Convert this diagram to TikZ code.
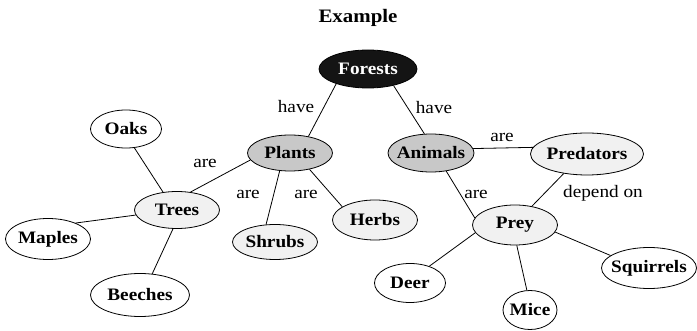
\documentclass[tikz,border=0pt]{standalone}
\usepackage{fontspec}
\setmainfont{Liberation Serif}[FakeStretch=1.1]
\usetikzlibrary{shapes.geometric}
\definecolor{darkfill}{HTML}{141414}
\definecolor{midfill}{HTML}{C8C8C8}
\definecolor{lightfill}{HTML}{F1F1F1}
\tikzset{
  ell/.style={ellipse, draw=black, line width=0.8pt, inner sep=0pt, fill=white,
    font=\rmfamily\fontsize{17.5}{19}\selectfont\bfseries},
  lbl/.style={font=\rmfamily\fontsize{17.5}{19}\selectfont, inner sep=0pt},
  conn/.style={draw=black, line width=0.8pt},
}
\newcommand{\nt}[1]{\makebox[0pt]{#1}}
\begin{document}
\begin{tikzpicture}[x=1pt,y=-1pt]
\useasboundingbox (0,0) rectangle (697,331);
\node[font=\rmfamily\fontsize{19}{21}\selectfont\bfseries] (title) at (358,18) {Example};

\node[ell, fill=darkfill, text=white, minimum width=98, minimum height=38] (forests) at (368,69) {\nt{Forests}};
\node[ell, fill=midfill, minimum width=85, minimum height=36] (plants) at (290,153) {\nt{Plants}};
\node[ell, fill=midfill, minimum width=86, minimum height=38] (animals) at (431,153) {\nt{Animals}};
\node[ell, fill=lightfill, minimum width=113, minimum height=42] (pred) at (587,154) {\nt{Predators}};
\node[ell, minimum width=71, minimum height=38] (oaks) at (126,129) {\nt{Oaks}};
\node[ell, fill=lightfill, minimum width=85, minimum height=37] (trees) at (177,210) {\nt{Trees}};
\node[ell, minimum width=85, minimum height=41] (maples) at (48,239) {\nt{Maples}};
\node[ell, minimum width=99, minimum height=43] (beeches) at (140,295) {\nt{Beeches}};
\node[ell, fill=lightfill, minimum width=85, minimum height=35] (shrubs) at (275,242) {\nt{Shrubs}};
\node[ell, fill=lightfill, minimum width=85, minimum height=40] (herbs) at (375,220) {\nt{Herbs}};
\node[ell, fill=lightfill, minimum width=85, minimum height=40] (prey) at (515,225) {\nt{Prey}};
\node[ell, minimum width=71, minimum height=39] (deer) at (410,283) {\nt{Deer}};
\node[ell, minimum width=54, minimum height=39] (mice) at (530,310) {\nt{Mice}};
\node[ell, minimum width=95, minimum height=41] (squirrels) at (649,268) {\nt{Squirrels}};

\draw[conn] (forests.205) -- (plants.42);
\draw[conn] (forests.-33) -- (animals.109);
\draw[conn] (plants.190) -- (trees.53);
\draw[conn] (plants.-120) -- (shrubs.117);
\draw[conn] (plants.-40) -- (herbs.158);
\draw[conn] (animals.6.8) -- (pred.173.5);
\draw[conn] (animals.-50) -- (prey.170);
\draw[conn] (pred.-140) -- (prey.48);
\draw[conn] (trees.128) -- (oaks.-66);
\draw[conn] (trees.187) -- (maples.30);
\draw[conn] (trees.258) -- (beeches.60);
\draw[conn] (prey.191) -- (deer.41);
\draw[conn] (prey.-85) -- (mice.99);
\draw[conn] (prey.-10) -- (squirrels.162);

\node[lbl] (l1) at (296,107) {have};
\node[lbl] (l2) at (434,108) {have};
\node[lbl] (l3) at (205,163) {are};
\node[lbl] (l4) at (248,194) {are};
\node[lbl] (l5) at (306,194) {are};
\node[lbl] (l6) at (502,137) {are};
\node[lbl] (l7) at (476,194) {are};
\node[lbl] (l8) at (603,193) {depend on};
\end{tikzpicture}
\end{document}
